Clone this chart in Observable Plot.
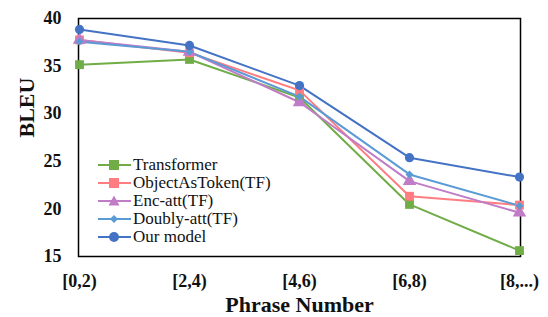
<!DOCTYPE html>
<html><head><meta charset="utf-8">
<script src="https://cdn.jsdelivr.net/npm/d3@7"></script>
<script src="https://cdn.jsdelivr.net/npm/@observablehq/plot@0.6"></script>
<style>
body{margin:0;background:#fff;}
#wrap{position:relative;width:548px;height:317px;}
#wrap svg text{font-family:"Liberation Serif","Times New Roman",serif;}
#legend{position:absolute;left:98px;top:156px;font-family:"Liberation Serif","Times New Roman",serif;font-size:17px;color:#111;}
#legend .row{display:flex;align-items:center;height:18px;}
#legend svg{margin-right:2px;}
</style></head>
<body><div id="wrap"><div id="legend"></div></div>
<script>
const categories = ["[0,2)","[2,4)","[4,6)","[6,8)","[8,...)"];
const seriesNames = ["Transformer","ObjectAsToken(TF)","Enc-att(TF)","Doubly-att(TF)","Our model"];
const transformer = [35.15, 35.7, 31.7, 20.47, 15.62];
const objectAsToken = [37.75, 36.4, 32.45, 21.33, 20.4];
const encAtt = [37.75, 36.5, 31.2, 22.92, 19.6];
const doublyAtt = [37.55, 36.5, 31.8, 23.62, 20.33];
const ourModel = [38.85, 37.17, 32.95, 25.38, 23.34];
const yTicks = [15, 20, 25, 30, 35, 40];
const colors = ["#70AD47","#FF7C80","#C07CC6","#5B9BD5","#4472C4"];
const symbols = ["square","square","triangle","diamond2","circle"];
const sizes = [5,5,5,3.6,4.6];

const allSeries = [transformer, objectAsToken, encAtt, doublyAtt, ourModel];
const data = [];
allSeries.forEach((vals, si) => vals.forEach((v, i) => data.push({series: seriesNames[si], cat: categories[i], value: v})));

const width = 548, marginLeft = 78, marginRight = 28;
const step = (width - marginLeft - marginRight) / (categories.length - 1);
const serif = "Liberation Serif";
const chart = Plot.plot({
  width, height: 317,
  marginLeft, marginRight, marginTop: 18, marginBottom: 61,
  style: {fontFamily: serif, fontSize: "18px", fontWeight: "bold", color: "#111", background: "#fff"},
  x: {type: "point", domain: categories, padding: 0, label: null},
  y: {domain: [15, 40], ticks: yTicks, label: null},
  color: {domain: seriesNames, range: colors},
  symbol: {domain: seriesNames, range: symbols},
  marks: [
    Plot.axisX({tickSize: 0, tickPadding: 18, fontSize: 18, fontWeight: "bold", fontFamily: serif}),
    Plot.ruleY(yTicks, {y: d => d, x1: categories[0], x2: categories[1], insetRight: step - 5, stroke: "#000", strokeWidth: 1.2}),
    Plot.axisY({ticks: yTicks, tickSize: 0, tickPadding: 17, fontSize: 18, fontWeight: "bold", fontFamily: serif}),
    Plot.frame({stroke: "#000", strokeWidth: 1.5}),
    Plot.lineY(data, {x: "cat", y: "value", z: "series", stroke: "series", strokeWidth: 2}),
    ...seriesNames.map((s, si) => Plot.dot(data.filter(d => d.series === s), {x: "cat", y: "value", symbol: "series", fill: "series", r: sizes[si], stroke: null})),
    Plot.text(["BLEU"], {frameAnchor: "left", dx: -52, rotate: -90, fontSize: 22, fontWeight: "bold", fill: "#111", fontFamily: serif}),
    Plot.text(["Phrase Number"], {frameAnchor: "bottom", lineAnchor: "middle", dy: 48, fontSize: 22, fontWeight: "bold", fill: "#111", fontFamily: serif})
  ]
});
document.getElementById("wrap").prepend(chart);

const leg = document.getElementById("legend");
const symPaths = {
  square: '<rect x="11" y="4" width="10" height="10" fill="C"/>',
  triangle: '<polygon points="16,3.5 21.5,13.5 10.5,13.5" fill="C"/>',
  diamond2: '<polygon points="16,5 20,9 16,13 12,9" fill="C"/>',
  circle: '<circle cx="16" cy="9" r="5" fill="C"/>'
};
seriesNames.forEach((s, i) => {
  const row = document.createElement("div");
  row.className = "row";
  row.innerHTML = `<svg width="33" height="18"><line x1="0" x2="33" y1="9" y2="9" stroke="${colors[i]}" stroke-width="2"/>${symPaths[symbols[i]].replace("C", colors[i])}</svg><span>${s}</span>`;
  leg.appendChild(row);
});
</script></body></html>
